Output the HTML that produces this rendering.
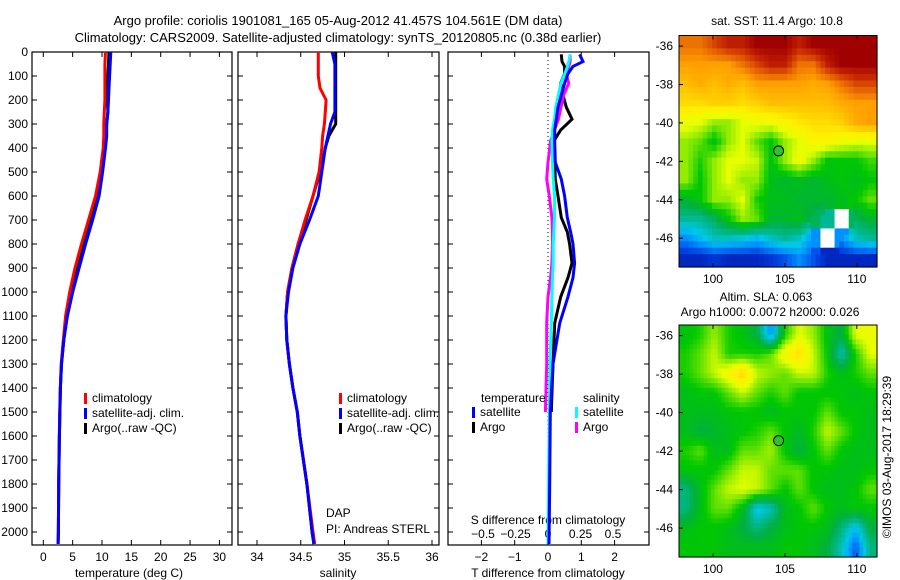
<!DOCTYPE html>
<html><head><meta charset="utf-8">
<style>
html,body{margin:0;padding:0;background:#fff;}
svg{display:block;font-family:"Liberation Sans",sans-serif;}
text{font-size:12px;fill:#000;}
</style></head>
<body>
<svg id="fig" width="900" height="580" viewBox="0 0 900 580" xmlns="http://www.w3.org/2000/svg">
<text x="338" y="25" text-anchor="middle" style="font-size:13px">Argo profile: coriolis 1901081_165 05-Aug-2012 41.457S 104.561E (DM data)</text>
<text x="338" y="42" text-anchor="middle" style="font-size:13px">Climatology: CARS2009. Satellite-adjusted climatology: synTS_20120805.nc (0.38d earlier)</text>
<g id="g"></g>
</svg>
<script>
// ---- profile data ----
const depths = [0,50,100,150,200,250,300,350,400,500,600,700,800,900,1000,1100,1200,1300,1400,1500,1600,1800,2000,2050];
const tempClim = [10.6,10.5,10.5,10.5,10.5,10.4,10.3,10.3,10.2,9.7,8.9,7.7,6.5,5.4,4.5,3.8,3.4,3.05,2.9,2.8,2.72,2.62,2.56,2.5];
const tempSat  = [11.5,11.4,11.3,11.2,11.1,11.0,10.8,10.8,10.6,10.1,9.5,8.4,7.2,6.1,5.0,4.1,3.5,3.1,2.92,2.82,2.74,2.63,2.57,2.52];
const tempArgo = [11.2,11.1,11.0,10.9,10.9,11.0,10.8,10.6,10.4,9.9,9.2,8.2,7.0,5.9,4.8,4.0,3.5,3.1,2.92,2.82,2.74,2.63,2.57,2.52];
const salClim = [34.70,34.70,34.70,34.72,34.79,34.78,34.77,34.75,34.74,34.71,34.64,34.55,34.47,34.40,34.35,34.33,34.34,34.37,34.41,34.46,34.49,34.57,34.64,34.66];
const salSat  = [34.86,34.89,34.89,34.89,34.89,34.89,34.84,34.81,34.78,34.74,34.70,34.60,34.49,34.41,34.36,34.33,34.34,34.37,34.41,34.46,34.49,34.57,34.63,34.65];
const salArgo = [34.90,34.90,34.90,34.90,34.90,34.90,34.90,34.82,34.78,34.72,34.64,34.56,34.47,34.40,34.35,34.33,34.34,34.37,34.41,34.46,34.49,34.57,34.63,34.65];
const diffDepths = [10,40,60,90,130,180,230,280,325,370,460,530,600,690,750,800,880,940,1020,1130,1300,1500,1800,2050];
const tDiffSat  = [0.95,1.05,0.75,0.6,0.5,0.4,0.3,0.25,0.2,0.2,0.22,0.4,0.5,0.58,0.68,0.75,0.8,0.75,0.6,0.35,0.15,0.07,0.05,0.03];
const tDiffArgo = [0.4,0.42,0.5,0.5,0.38,0.45,0.55,0.72,0.38,0.18,0.2,0.22,0.3,0.4,0.58,0.65,0.72,0.6,0.38,0.2,0.15,0.1];
const sDiffSat  = [0.17,0.16,0.15,0.13,0.1,0.08,0.06,0.05,0.035,0.03,0.035,0.04,0.05,0.05,0.045,0.04,0.04,0.035,0.03,0.025,0.015,0.01,0.005,0.0];
const sDiffArgo = [0.17,0.17,0.16,0.14,0.16,0.12,0.1,0.08,0.05,0.02,0.0,-0.01,0.01,0.03,0.035,0.035,0.03,0.02,0.0,-0.01,-0.01,-0.02];
const depthTicks = [0,100,200,300,400,500,600,700,800,900,1000,1100,1200,1300,1400,1500,1600,1700,1800,1900,2000];
const tempTicks = [0,5,10,15,20,25,30];
const salTicks = [34,34.5,35,35.5,36];
const tDiffTicks = [-2,-1,0,1,2];
const sDiffTicks = [-0.5,-0.25,0,0.25,0.5];
const lonTicks = [100,105,110];
const latTicks = [-36,-38,-40,-42,-44,-46];
const argoLon = 104.561, argoLat = -41.457;
// ---- map data (0 = cold/low, 1 = warm/high; -1 = missing) ----
const sstGrid = [
[0.85,0.85,0.9,0.95,0.95,1,1,1,0.95,1,1,1,1,1],
[0.8,0.8,0.8,0.8,0.85,0.9,0.95,0.95,0.85,0.85,0.95,1,1,1],
[0.75,0.78,0.75,0.78,0.75,0.8,0.8,0.8,0.8,0.78,0.8,0.85,0.9,0.9],
[0.7,0.7,0.72,0.72,0.7,0.72,0.75,0.75,0.75,0.75,0.75,0.78,0.8,0.8],
[0.62,0.6,0.55,0.55,0.6,0.62,0.62,0.65,0.68,0.7,0.7,0.72,0.78,0.8],
[0.55,0.52,0.45,0.55,0.6,0.52,0.46,0.55,0.6,0.65,0.65,0.62,0.6,0.6],
[0.55,0.48,0.55,0.6,0.6,0.58,0.45,0.55,0.62,0.55,0.46,0.46,0.46,0.5],
[0.55,0.46,0.55,0.6,0.55,0.55,0.44,0.42,0.44,0.42,0.44,0.46,0.44,0.46],
[0.42,0.46,0.55,0.55,0.6,0.48,0.44,0.44,0.42,0.42,0.42,0.44,0.46,0.52],
[0.33,0.33,0.38,0.46,0.55,0.52,0.42,0.42,0.44,0.38,0.33,-1,0.38,0.42],
[0.2,0.25,0.3,0.3,0.28,0.25,0.3,0.33,0.3,0.2,-1,0.2,0.3,0.33],
[0.1,0.1,0.12,0.1,0.1,0.1,0.12,0.15,0.2,0.15,0.1,0.1,0.1,0.1]];
const slaGrid = [
[0.45,0.48,0.55,0.48,0.45,0.4,0.2,0.48,0.6,0.55,0.45,0.4,0.6,0.62],
[0.48,0.52,0.58,0.48,0.48,0.48,0.52,0.65,0.7,0.58,0.46,0.3,0.48,0.6],
[0.48,0.52,0.58,0.64,0.72,0.58,0.55,0.52,0.58,0.58,0.48,0.44,0.48,0.52],
[0.44,0.46,0.46,0.52,0.58,0.52,0.48,0.52,0.46,0.46,0.46,0.46,0.44,0.46],
[0.44,0.44,0.44,0.46,0.46,0.46,0.43,0.46,0.46,0.46,0.52,0.46,0.46,0.44],
[0.44,0.4,0.42,0.44,0.46,0.48,0.52,0.46,0.43,0.48,0.58,0.52,0.46,0.44],
[0.48,0.52,0.44,0.44,0.52,0.52,0.56,0.46,0.4,0.46,0.52,0.46,0.44,0.44],
[0.46,0.46,0.46,0.52,0.58,0.58,0.52,0.52,0.52,0.46,0.46,0.44,0.44,0.46],
[0.35,0.44,0.52,0.58,0.6,0.58,0.52,0.46,0.52,0.46,0.44,0.44,0.46,0.52],
[0.35,0.44,0.52,0.52,0.44,0.25,0.3,0.44,0.46,0.52,0.46,0.44,0.46,0.46],
[0.44,0.46,0.46,0.44,0.4,0.35,0.4,0.44,0.46,0.46,0.44,0.35,0.25,0.4],
[0.46,0.46,0.46,0.44,0.44,0.44,0.44,0.46,0.46,0.44,0.4,0.3,0.15,0.35]];

const NS='http://www.w3.org/2000/svg';
const G=document.getElementById('g');
function mk(tag,attrs,parent){const e=document.createElementNS(NS,tag);for(const k in attrs)e.setAttribute(k,attrs[k]);(parent||G).appendChild(e);return e;}
function txt(x,y,s,anchor,parent){const t=mk('text',{x:x,y:y,'text-anchor':anchor||'middle'},parent);t.textContent=s;return t;}

const PT=52, PB=545;
const yD=d=>PT+d*0.24;
const panels=[
 {x0:32,x1:232,xs:v=>43.3+v*5.87},
 {x0:238,x1:439,xs:v=>257+(v-34)*87.5},
 {x0:448,x1:649,xs:v=>548+v*33.3, xs2:v=>548+v*130}
];
function frame(p,name){
  const r=mk('rect',{x:p.x0,y:PT,width:p.x1-p.x0,height:PB-PT,fill:'none',stroke:'#000','stroke-width':1.2});
  
  
  depthTicks.forEach(d=>{mk('line',{x1:p.x0,x2:p.x0+5,y1:yD(d),y2:yD(d),stroke:'#000'});mk('line',{x1:p.x1,x2:p.x1-5,y1:yD(d),y2:yD(d),stroke:'#000'});});
}
function line(xs,ys,vals,dep,color,name){
  const pts=vals.map((v,i)=>xs(v).toFixed(1)+','+yD(dep[i]).toFixed(1)).join(' ');
  const l=mk('polyline',{points:pts,fill:'none',stroke:color,'stroke-width':3,'stroke-linejoin':'miter'});
  
  
}
// Panel 1
const p1=panels[0];
frame(p1,'temperature-panel');
depthTicks.forEach(d=>{const t=txt(28,yD(d)+4,String(d),'end');});
tempTicks.forEach(v=>{const x=p1.xs(v);mk('line',{x1:x,x2:x,y1:PB,y2:PB-5,stroke:'#000'});mk('line',{x1:x,x2:x,y1:PT,y2:PT+5,stroke:'#000'});const t=txt(x,561,String(v));});
{const t=txt(129,577,'temperature (deg C)');}
line(p1.xs,yD,tempArgo,depths,'#000','temp-argo-line');
line(p1.xs,yD,tempClim,depths,'#f00','temp-climatology-line');
line(p1.xs,yD,tempSat,depths,'#00f','temp-satellite-line');
function legend(x,y,items,name){
  items.forEach((it,i)=>{const g=mk('g',{});
   mk('rect',{x:x,y:y+i*15-9,width:3,height:11,fill:it[1]},g);txt(x+8,y+i*15,it[0],'start',g);});
}
legend(84,402,[['climatology','#f00'],['satellite-adj. clim.','#00f'],['Argo(..raw -QC)','#000']],'temp-legend');
// Panel 2
const p2=panels[1];
frame(p2,'salinity-panel');
salTicks.forEach(v=>{const x=p2.xs(v);mk('line',{x1:x,x2:x,y1:PB,y2:PB-5,stroke:'#000'});mk('line',{x1:x,x2:x,y1:PT,y2:PT+5,stroke:'#000'});const t=txt(x,561,String(v));});
{const t=txt(338,577,'salinity');}
line(p2.xs,yD,salArgo,depths,'#000','sal-argo-line');
line(p2.xs,yD,salClim,depths,'#f00','sal-climatology-line');
line(p2.xs,yD,salSat,depths,'#00f','sal-satellite-line');
legend(339,402,[['climatology','#f00'],['satellite-adj. clim.','#00f'],['Argo(..raw -QC)','#000']],'sal-legend');
{const t=txt(326,517,'DAP','start');
 const t2=txt(326,533,'PI: Andreas STERL','start');}
// Panel 3
const p3=panels[2];
frame(p3,'difference-panel');
mk('line',{x1:548,x2:548,y1:PT,y2:PB,stroke:'#000','stroke-dasharray':'1,3'});
tDiffTicks.forEach(v=>{const x=p3.xs(v);mk('line',{x1:x,x2:x,y1:PB,y2:PB-5,stroke:'#000'});mk('line',{x1:x,x2:x,y1:PT,y2:PT+5,stroke:'#000'});const t=txt(x,561,String(v).replace('-','−'));});
sDiffTicks.forEach(v=>{const t=txt(p3.xs2(v),538,String(v).replace('-','−'));});
{const t=txt(548,524,'S difference from climatology');
 const t2=txt(548,577,'T difference from climatology');}
line(p3.xs,yD,tDiffArgo,diffDepths,'#000','tdiff-argo-line');
line(p3.xs2,yD,sDiffArgo,diffDepths,'#f0f','sdiff-argo-line');
line(p3.xs2,yD,sDiffSat,diffDepths,'#0ff','sdiff-satellite-line');
line(p3.xs,yD,tDiffSat,diffDepths,'#00f','tdiff-satellite-line');
{const t=txt(481,402,'temperature','start');
 const t2=txt(583,402,'salinity','start');}
legend(472,416,[['satellite','#00f'],['Argo','#000']],'tdiff-legend');
legend(575,416,[['satellite','#0ff'],['Argo','#f0f']],'sdiff-legend');
// Maps
const pal=[[0,0,112],[0,16,160],[0,64,224],[0,144,255],[0,200,232],[0,184,144],[0,176,64],[0,200,0],[120,230,0],[230,255,0],[255,240,0],[255,200,0],[255,160,0],[230,100,0],[200,40,0],[160,0,0]];
function col(v){if(v<0)return '#fff';const f=Math.max(0,Math.min(1,v))*(pal.length-1);const i=Math.min(pal.length-2,Math.floor(f)),a=f-i;
  const c=pal[i].map((q,k)=>Math.round(q*(1-a)+pal[i+1][k]*a));return 'rgb('+c.join(',')+')';}
function map(y0,y1,grid,name,smooth){
  const x0=679,x1=877,lon0=97.64,lon1=111.4,lat0=-35.45,lat1=-47.5;
  const xs=lo=>x0+(lo-lon0)/(lon1-lon0)*(x1-x0);
  const ys=la=>y0+(la-lat0)/(lat1-lat0)*(y1-y0);
  const g=mk('g',{});
  const R=grid.length,C=grid[0].length;
  const sub=smooth?4:3;
  const cw=(x1-x0)/(C*sub),ch=(y1-y0)/(R*sub);
  for(let r=0;r<R*sub;r++)for(let c=0;c<C*sub;c++){
    const fr=(r+0.5)/sub-0.5,fc=(c+0.5)/sub-0.5;
    const r0=Math.max(0,Math.min(R-1,Math.floor(fr))),c0=Math.max(0,Math.min(C-1,Math.floor(fc)));
    const r1=Math.min(R-1,r0+1),c1=Math.min(C-1,c0+1);
    const a=Math.max(0,Math.min(1,fr-r0)),b=Math.max(0,Math.min(1,fc-c0));
    const vals=[grid[r0][c0],grid[r0][c1],grid[r1][c0],grid[r1][c1]];
    let v;
    if(vals.some(q=>q<0)){v=grid[Math.round(Math.max(0,Math.min(R-1,fr)))][Math.round(Math.max(0,Math.min(C-1,fc)))];}
    else v=vals[0]*(1-a)*(1-b)+vals[1]*(1-a)*b+vals[2]*a*(1-b)+vals[3]*a*b;
    mk('rect',{x:(x0+c*cw).toFixed(2),y:(y0+r*ch).toFixed(2),width:(cw+0.6).toFixed(2),height:(ch+0.6).toFixed(2),fill:col(v)},g);
  }
  mk('rect',{x:x0,y:y0,width:x1-x0,height:y1-y0,fill:'none',stroke:'#000'},g);
  latTicks.forEach(la=>{const y=ys(la);mk('line',{x1:x0,x2:x0+4,y1:y,y2:y,stroke:'#000'},g);const t=txt(673,y+4,String(la),'end');});
  lonTicks.forEach(lo=>{const x=xs(lo);mk('line',{x1:x,x2:x,y1:y1,y2:y1-4,stroke:'#000'},g);mk('line',{x1:x,x2:x,y1:y0,y2:y0+4,stroke:'#000'},g);const t=txt(x,y1+16,String(lo));});
  const c=mk('circle',{cx:xs(argoLon),cy:ys(argoLat),r:5,fill:'#30c030',stroke:'#000'},g);
  
  
}
map(35.5,267,sstGrid,'sst-map',false);
map(325,557,slaGrid,'sla-map',true);
{const t=txt(777,25,'sat. SST: 11.4  Argo: 10.8');
 const t2=txt(766,301,'Altim. SLA: 0.063');
 const t3=txt(770,316,'Argo h1000: 0.0072 h2000: 0.026');
 const t4=txt(0,0,'©IMOS 03-Aug-2017 18:29:39');t4.setAttribute('transform','translate(891,457) rotate(-90)');}
</script>
</body></html>
